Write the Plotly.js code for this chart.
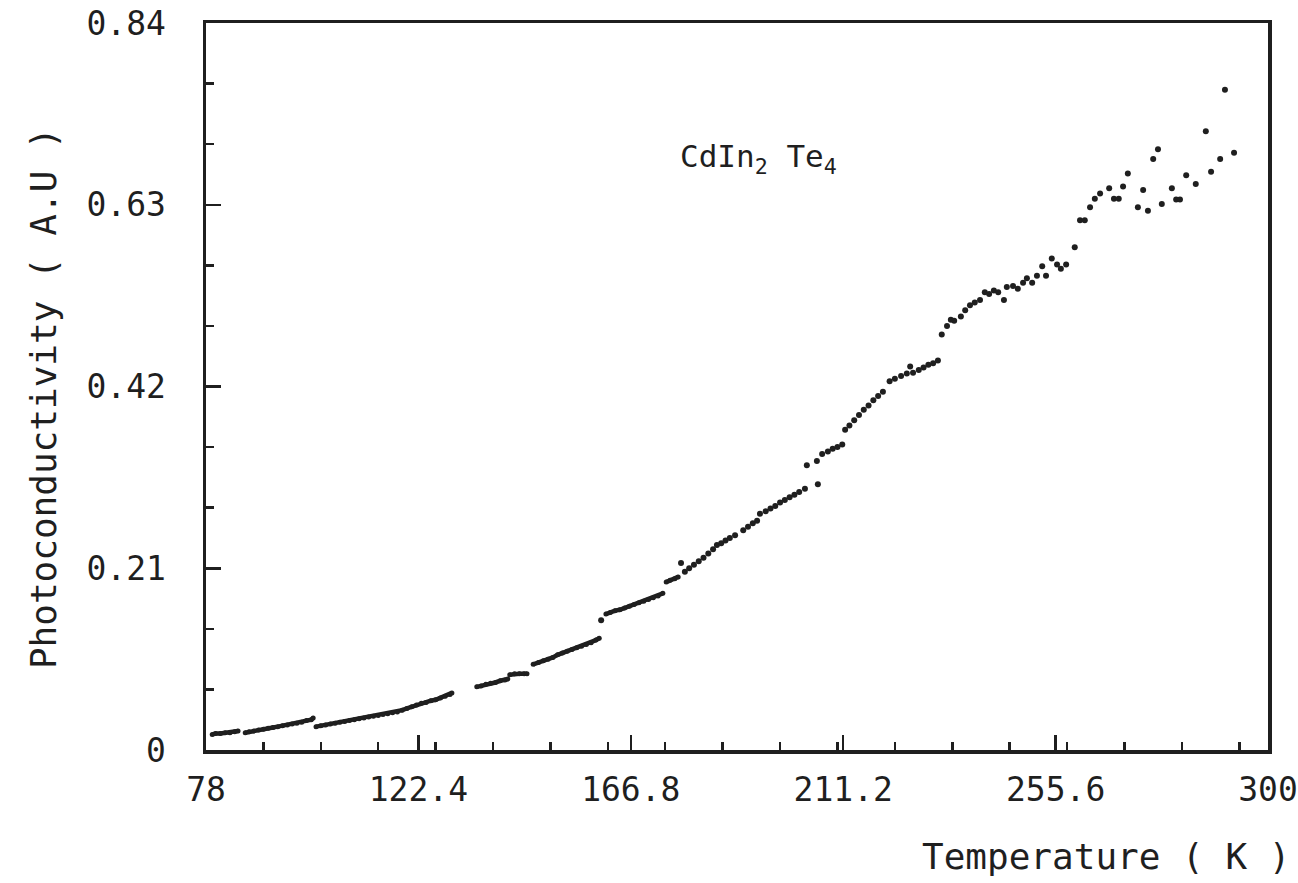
<!DOCTYPE html>
<html>
<head>
<meta charset="utf-8">
<script src="https://cdn.plot.ly/plotly-3.0.1.min.js"></script>
<style>
  html, body { margin: 0; padding: 0; background: #ffffff; }
  #chart { width: 1298px; height: 883px; }
</style>
</head>
<body>
<div id="chart"></div>
<script>
// Dense, nearly continuous runs of readings (null separates runs)
const tempDense = [
  79.3, 80, 81, 82, 83, 84, 84.7, null,
  86.2, 87, 88, 89, 90, 91, 92, 93, 94, 95, 96, 97, 98, 99, 100, 100.4, null,
  101, 102, 103, 104, 105, 106, 107, 108, 109, 110, 111, 112, 113, 114, 115, 116, 117, 118,
  119, 120, 121, 122, 123, 124, 125, 126, 127, 128, 129, 129.4, null,
  134.6, 135.5, 136.5, 137.5, 138.5, 139.5, 140.5, 141.1, null,
  141.5, 142.5, 143.5, 144.5, 145.1, null,
  146.4, 147.5, 148.5, 149.5, 150.5, 151.5, 152.5, 153.5, 154.5, 155.5, 156.5, 157.5, 158.5, 159.5, 160.2, null,
  161.6, 162.5, 163.5, 164.5, 165.5, 166.5, 167.5, 168.5, 169.5, 170.5, 171.5, 172.5, 173.5, null,
  174.2, 175, 176, 176.7
];
const photoDense = [
  0.018, 0.019, 0.019, 0.020, 0.020, 0.021, 0.022, null,
  0.020, 0.021, 0.022, 0.023, 0.024, 0.025, 0.026, 0.027, 0.028, 0.029, 0.030, 0.031, 0.032, 0.034, 0.035, 0.037, null,
  0.027, 0.028, 0.029, 0.030, 0.031, 0.032, 0.033, 0.034, 0.035, 0.036, 0.037, 0.038, 0.039, 0.040, 0.041, 0.042, 0.043, 0.044,
  0.046, 0.048, 0.050, 0.052, 0.054, 0.055, 0.057, 0.058, 0.060, 0.062, 0.064, 0.066, null,
  0.073, 0.074, 0.076, 0.077, 0.078, 0.080, 0.081, 0.082, null,
  0.087, 0.088, 0.088, 0.088, 0.088, null,
  0.099, 0.101, 0.103, 0.105, 0.107, 0.110, 0.112, 0.114, 0.116, 0.118, 0.120, 0.122, 0.124, 0.127, 0.129, null,
  0.157, 0.159, 0.161, 0.162, 0.164, 0.166, 0.168, 0.170, 0.172, 0.174, 0.176, 0.178, 0.181, null,
  0.194, 0.196, 0.198, 0.200
];

// Separate, individually resolved readings
const tempSparse = [
  160.6, 177.3,
  178.1, 179, 180, 181, 182, 183, 184, 184.8, 185.7, 186.6, 187.5, 188.6,
  190.3, 191.3, 192.3, 193.2,
  193.8, 195, 196, 197, 198, 199, 200, 201, 202, 203.2,
  203.6, 205.7, 205.9,
  206.8, 208, 209, 210, 211,
  211.6, 212.5, 213.5, 214.5, 215.5, 216.5, 217.5, 218.5, 219.5,
  220.9, 222, 223.3, 224.5, 225.2, 225.8, 227, 228, 229, 230, 231,
  231.8, 232.9, 233.7, 234.4, 235.8, 236.7, 237.7, 238.7, 239.8, 240.8, 241.7, 242.7, 243.6,
  244.8, 245.4, 246.7, 247.7, 248.8, 249.6, 250.7, 251.7, 252.8, 253.6, 254.8, 255.9, 256.7,
  257.8, 259.6, 260.7, 261.7, 262.8, 263.8, 264.9, 266.8, 267.8, 268.8, 269.7, 270.7,
  272.8, 273.9, 274.9, 276.0, 277.0, 277.8, 279.9, 280.8, 281.6, 282.9, 284.9,
  287.0, 288.1, 290.0, 291.0, 292.9
];
const photoSparse = [
  0.150, 0.216,
  0.206, 0.210, 0.214, 0.218, 0.222, 0.227, 0.232, 0.237, 0.239, 0.242, 0.245, 0.248,
  0.254, 0.258, 0.262, 0.265,
  0.273, 0.276, 0.279, 0.282, 0.286, 0.289, 0.292, 0.295, 0.298, 0.302,
  0.329, 0.334, 0.307,
  0.342, 0.345, 0.348, 0.350, 0.353,
  0.370, 0.375, 0.381, 0.387, 0.393, 0.398, 0.404, 0.409, 0.414,
  0.426, 0.429, 0.432, 0.435, 0.443, 0.436, 0.439, 0.442, 0.445, 0.447, 0.450,
  0.480, 0.490, 0.497, 0.496, 0.501, 0.508, 0.514, 0.517, 0.520, 0.529, 0.527, 0.531, 0.529,
  0.520, 0.535, 0.536, 0.533, 0.540, 0.545, 0.540, 0.548, 0.559, 0.548, 0.568, 0.561, 0.556,
  0.561, 0.581, 0.612, 0.612, 0.627, 0.637, 0.643, 0.649, 0.637, 0.637, 0.651, 0.666,
  0.627, 0.647, 0.623, 0.683, 0.694, 0.631, 0.649, 0.636, 0.636, 0.664, 0.654,
  0.715, 0.668, 0.683, 0.763, 0.690
];

// Axis ticks and labels
const xTickVals = [78, 122.4, 166.8, 211.2, 255.6, 300];
const xTickText = ["78", "122.4", "166.8", "211.2", "255.6", "300"];
const yTickVals = [0, 0.21, 0.42, 0.63, 0.84];
const yTickText = ["0", "0.21", "0.42", "0.63", "0.84"];

const xTitle = "Temperature ( K )";
const yTitle = "Photoconductivity ( A.U )";
const sampleLabel = "CdIn<sub>2</sub> Te<sub>4</sub>";

const ink = "#1f1f1f";
const fontFam = "DejaVu Sans Mono, Liberation Mono, monospace";

const traces = [
  {
    x: tempDense, y: photoDense,
    type: "scatter", mode: "lines+markers",
    connectgaps: false,
    line: { color: ink, width: 4.5 },
    marker: { color: ink, size: 5 },
    hoverinfo: "x+y", showlegend: false
  },
  {
    x: tempSparse, y: photoSparse,
    type: "scatter", mode: "markers",
    marker: { color: ink, size: 6 },
    hoverinfo: "x+y", showlegend: false
  }
];

const layout = {
  width: 1298, height: 883,
  margin: { l: 206, r: 30, t: 23, b: 133 },
  paper_bgcolor: "#ffffff", plot_bgcolor: "#ffffff",
  showlegend: false,
  font: { family: fontFam, color: ink },
  xaxis: {
    range: [78, 300],
    tickmode: "array", tickvals: xTickVals, ticktext: xTickText,
    ticks: "inside", ticklen: 15, tickwidth: 2.5, tickcolor: ink,
    showline: true, linewidth: 3.5, linecolor: ink, mirror: true,
    showgrid: false, zeroline: false,
    tickfont: { family: fontFam, size: 33, color: ink },
    ticklabelstandoff: 8,
    minor: { tick0: 78, dtick: 12, ticks: "inside", ticklen: 8, tickwidth: 2.5, tickcolor: ink, showgrid: false },
    fixedrange: true
  },
  yaxis: {
    range: [0, 0.84],
    tickmode: "array", tickvals: yTickVals, ticktext: yTickText,
    ticks: "inside", ticklen: 15, tickwidth: 2.5, tickcolor: ink,
    showline: true, linewidth: 3.5, linecolor: ink, mirror: true,
    showgrid: false, zeroline: false,
    tickfont: { family: fontFam, size: 33, color: ink },
    ticklabelstandoff: 30,
    minor: { tick0: 0, dtick: 0.07, ticks: "inside", ticklen: 8, tickwidth: 2.5, tickcolor: ink, showgrid: false },
    fixedrange: true
  },
  annotations: [
    {
      text: xTitle, xref: "paper", yref: "paper",
      x: 1.0226, y: -0.147, xanchor: "right", yanchor: "middle",
      showarrow: false, font: { family: fontFam, size: 36, color: ink }
    },
    {
      text: yTitle, xref: "paper", yref: "paper",
      x: -0.1535, y: 0.484, xanchor: "center", yanchor: "middle", textangle: -90,
      showarrow: false, font: { family: fontFam, size: 36, color: ink }
    },
    {
      text: sampleLabel, xref: "paper", yref: "paper",
      x: 0.52, y: 0.814, xanchor: "center", yanchor: "middle",
      showarrow: false, font: { family: fontFam, size: 31, color: ink }
    }
  ]
};

Plotly.newPlot("chart", traces, layout, { staticPlot: true, displayModeBar: false });
</script>
</body>
</html>
